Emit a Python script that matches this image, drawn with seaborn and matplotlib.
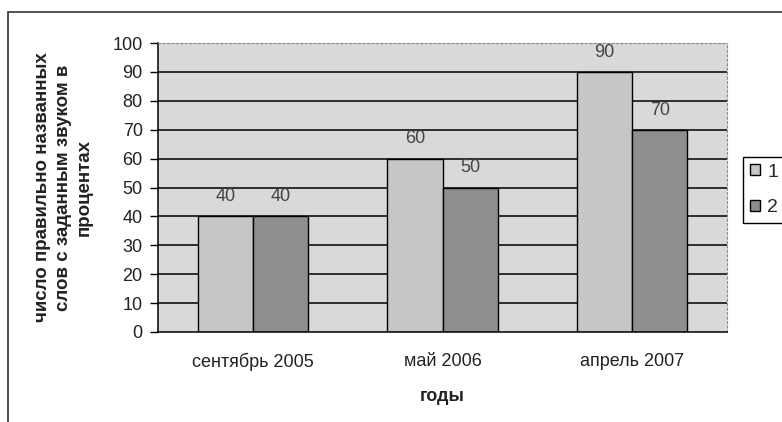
import matplotlib
matplotlib.use("Agg")
import matplotlib.pyplot as plt
from matplotlib.patches import Rectangle
import seaborn as sns
import pandas as pd

# Data: share of correctly named words, by survey date and group
periods = ["сентябрь 2005", "май 2006", "апрель 2007"]
series_names = ["1", "2"]
group1 = [40, 60, 90]
group2 = [40, 50, 70]
y_ticks = [0, 10, 20, 30, 40, 50, 60, 70, 80, 90, 100]

df = pd.DataFrame({
    "period": periods * 2,
    "series": [series_names[0]] * len(periods) + [series_names[1]] * len(periods),
    "value": group1 + group2,
})

sns.set_theme(style="white")
plt.rcParams["font.family"] = ["Liberation Sans", "DejaVu Sans"]

fig = plt.figure(figsize=(7.82, 4.22), dpi=100)
fig.patch.set_facecolor("white")

# outer chart frame (runs past the right and bottom edges)
fig.patches.append(Rectangle((8 / 782, -0.1), 1.2, 1 - 12 / 422 + 0.1,
                             transform=fig.transFigure, fill=False,
                             edgecolor="#333333", linewidth=1.2))

ax = fig.add_axes([158 / 782, 1 - 332 / 422, (727 - 158) / 782, (332 - 43) / 422])
ax.set_facecolor("#d9d9d9")

sns.barplot(data=df, x="period", y="value", hue="series",
            palette=["#c6c6c6", "#8e8e8e"], width=0.58, gap=0,
            edgecolor="black", linewidth=1.0, saturation=1, ax=ax)

ax.set_ylim(0, 100)
ax.set_xlim(-0.5, len(periods) - 0.5)
ax.set_yticks(y_ticks)
ax.set_yticklabels([str(t) for t in y_ticks], fontsize=13, color="#222222")

# horizontal gridlines behind the bars
ax.set_axisbelow(True)
ax.yaxis.grid(True, color="black", linewidth=1.1)
ax.xaxis.grid(False)
gl = ax.yaxis.get_gridlines()
gl[-1].set_visible(False)
gl[0].set_visible(False)

# category labels between boundary ticks
ax.set_xticks(range(len(periods)))
ax.set_xticklabels(periods, fontsize=13, color="#222222")
ax.tick_params(axis="x", length=0, pad=15)
ax.set_xticks([-0.5 + i for i in range(len(periods) + 1)], minor=True)
ax.tick_params(axis="x", which="minor", length=6, width=1, color="black", direction="out")
ax.tick_params(axis="y", length=6, width=1, color="black", direction="out", pad=5, left=True)

for side in ["left", "bottom"]:
    ax.spines[side].set_color("black")
    ax.spines[side].set_linewidth(1.1)
for side in ["top", "right"]:
    ax.spines[side].set_color("#888888")
    ax.spines[side].set_linestyle((0, (2, 2)))
    ax.spines[side].set_linewidth(0.8)

# value labels above bars
for cont in ax.containers:
    ax.bar_label(cont, padding=8, fontsize=13, color="#444444")

ax.set_xlabel("годы", fontsize=13, fontweight="bold", color="#222222", labelpad=12)
ax.set_ylabel("число правильно названных\nслов с заданным звуком в\nпроцентах",
              fontsize=13.5, fontweight="bold", color="#222222", labelpad=14,
              linespacing=1.3)

handles, labels = ax.get_legend_handles_labels()
ax.get_legend().remove()
leg = fig.legend(handles, labels, loc="upper left",
                 bbox_to_anchor=(743 / 782, 1 - 157 / 422),
                 bbox_transform=fig.transFigure, fontsize=14,
                 handlelength=0.5, handleheight=0.5, handletextpad=0.4,
                 borderpad=0.35, borderaxespad=0, labelspacing=0.95, frameon=True,
                 fancybox=False, edgecolor="black", framealpha=1)
leg.get_frame().set_linewidth(1.0)

fig.savefig("out.png", dpi=100)
